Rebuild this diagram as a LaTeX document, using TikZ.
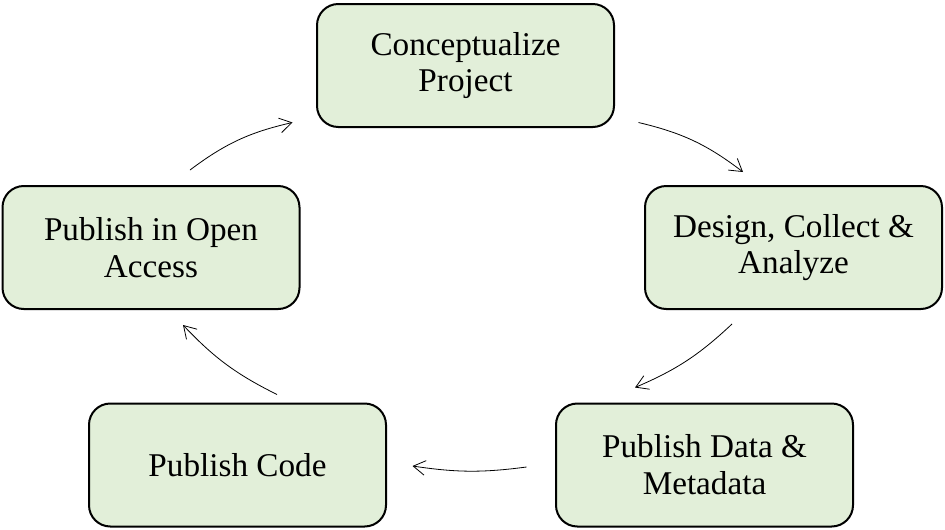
\documentclass[tikz,border=0pt]{standalone}
\usepackage{fontspec}
\setmainfont{Liberation Serif}
\usepackage{tikz}
\usetikzlibrary{arrows.meta,calc}
\definecolor{stagegreen}{HTML}{E2EFD9}

\begin{document}
\begin{tikzpicture}[x=0.75pt,y=-0.75pt,->,>={Straight Barb[length=9pt,width=11pt]},
                    semithick]
  \tikzstyle{stage}=[draw=black,line width=1.5pt,fill=stagegreen,rounded corners=16pt,
                     minimum width=222.75pt,minimum height=92.25pt,inner sep=0pt,
                     align=center,font=\fontsize{24.9pt}{27.6pt}\selectfont]
  \useasboundingbox (0,0) rectangle (945,529);

  \node[stage] (concept) at (465.5,65.5)  {Conceptualize\\Project};
  \node[stage] (design)  at (793.5,247.5) {Design, Collect \&\\Analyze};
  \node[stage] (data)    at (704.5,465)   {Publish Data \&\\Metadata};
  \node[stage] (code)    at (237.5,465)   {Publish Code};
  \node[stage] (open)    at (151,247.5)   {Publish in Open\\Access};

  % arrow ends, floating between the boxes
  \coordinate (c1) at ($(concept.south east)+(23.5,-5.5)$);
  \coordinate (d1) at ($(design.north)+(-50.5,-13)$);
  \coordinate (d2) at ($(design.south)+(-61.5,14)$);
  \coordinate (m1) at ($(data.north)+(-69.5,-15)$);
  \coordinate (m2) at ($(data.west)+(-28.5,2)$);
  \coordinate (k1) at ($(code.east)+(25.5,1)$);
  \coordinate (k2) at ($(code.north)+(39.5,-8)$);
  \coordinate (o1) at ($(open.south)+(32,15)$);
  \coordinate (o2) at ($(open.north)+(39,-15)$);
  \coordinate (c2) at ($(concept.south west)+(-23.5,-5.5)$);

  \path (c1) edge[bend left=12] (d1)
        (d2) edge[bend left=10] (m1)
        (m2) edge[bend left=8]  (k1)
        (k2) edge[bend left=10] (o1)
        (o2) edge[bend left=12] (c2);
\end{tikzpicture}
\end{document}
